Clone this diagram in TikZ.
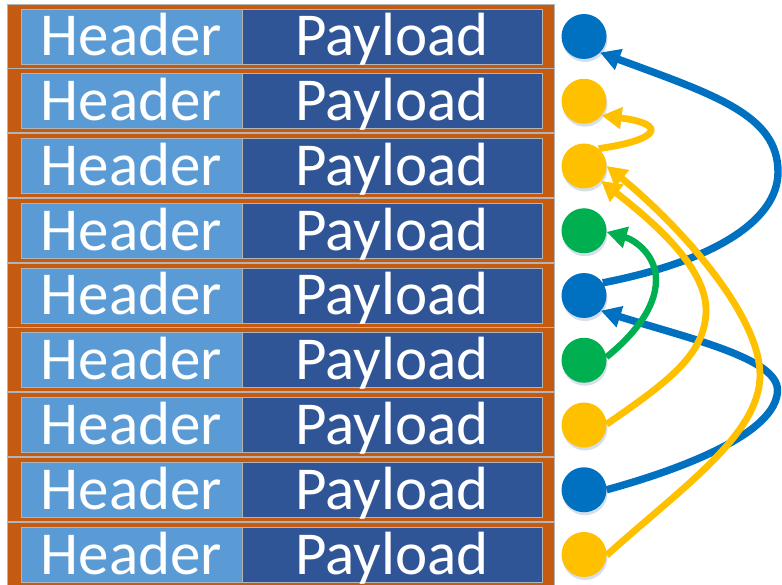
\documentclass[tikz,border=0pt]{standalone}
\usepackage{fontspec}
\setmainfont{Carlito}
\usetikzlibrary{arrows.meta}
\definecolor{rowor}{HTML}{C55A11}
\definecolor{hdr}{HTML}{5B9BD5}
\definecolor{pay}{HTML}{2F5597}
\definecolor{cblue}{HTML}{0070C0}
\definecolor{cyel}{HTML}{FFC000}
\definecolor{cgreen}{HTML}{00B050}
\definecolor{shad}{HTML}{D5DEEA}
\definecolor{edge}{HTML}{B4B4B4}
\begin{document}
\begin{tikzpicture}[x=1pt,y=-1pt,
  rowbox/.style={draw=edge, line width=0.8pt, fill=rowor, minimum width=547pt, minimum height=64pt, inner sep=0pt},
  hdrbox/.style={draw=edge, line width=0.6pt, fill=hdr, minimum width=221pt, minimum height=55pt, inner sep=0pt,
    text=white, text height=39pt, text depth=0pt, font=\fontsize{61pt}{63pt}\selectfont},
  paybox/.style={hdrbox, fill=pay, minimum width=300pt},
  dot/.style={circle, minimum size=45pt, inner sep=0pt, fill=#1},
  link/.style={line width=#1, -{Triangle[length=20pt,width=21pt]}},
  link/.default=6.8pt
]
\useasboundingbox (0,0) rectangle (782,585);
\foreach \i/\col in {1/cblue,2/cyel,3/cyel,4/cgreen,5/cblue,6/cgreen,7/cyel,8/cblue,9/cyel}{
  \pgfmathsetmacro{\yy}{36.5+64.75*(\i-1)}
  \node[rowbox] (r\i) at (280.5,\yy-0.5) {};
  \node[hdrbox] (h\i) at (131.5,\yy) {Header};
  \node[paybox] (p\i) at (392,\yy) {Payload};
  \fill[shad] (585,\yy+3) circle (22.5pt);
  \node[dot=\col] (c\i) at (584,\yy) {};
}
\coordinate (b1m) at (778,172);
\coordinate (b2m) at (777.5,390);
\coordinate (gm) at (656,280);
\coordinate (y7m) at (706,310);
\coordinate (y9m) at (760,375);
\draw[link=7.4pt, cblue] (c5.34) .. controls (710,262) and (778,222) .. (b1m)
   .. controls (778,115) and (715,95) .. (c1.-45);
\draw[link=7.4pt, cblue] (c8.0) .. controls (686,468) and (777.5,432) .. (b2m)
   .. controls (777.5,358) and (687,338) .. (c5.-42);
\draw[link, cyel] (c3.50) .. controls (660,140) and (668,124) .. (c2.-39);
\draw[link, cyel] (c7.2) .. controls (666,383) and (706,355) .. (y7m)
   .. controls (706,265) and (648,218) .. (c3.-41);
\draw[link, cyel] (c9.-2) .. controls (680,489) and (760,435) .. (y9m)
   .. controls (760,315) and (680,226) .. (c3.0);
\draw[link=6.4pt, cgreen] (c6.8) .. controls (630,338) and (656,310) .. (gm)
   .. controls (656,255) and (635,240) .. (c4.-3);
\end{tikzpicture}
\end{document}
